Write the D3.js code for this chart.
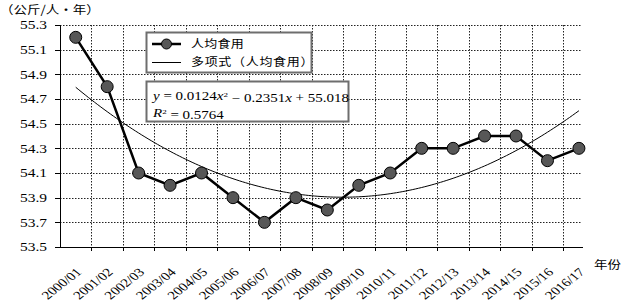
<!DOCTYPE html>
<html>
<head>
<meta charset="utf-8">
<script src="https://cdn.jsdelivr.net/npm/d3@7"></script>
<style>
  body { margin: 0; background: #fff; }
  svg { display: block; }
</style>
</head>
<body>
<div id="chart"></div>
<script>
// data
const years = ['2000/01', '2001/02', '2002/03', '2003/04', '2004/05', '2005/06', '2006/07', '2007/08', '2008/09',
    '2009/10', '2010/11', '2011/12', '2012/13', '2013/14', '2014/15', '2015/16', '2016/17'];
const perCapita = [55.2, 54.8, 54.1, 54.0, 54.1, 53.9, 53.7, 53.9, 53.8, 54.0, 54.1, 54.3, 54.3, 54.4, 54.4, 54.2, 54.3];
const yTicks = [53.5, 53.7, 53.9, 54.1, 54.3, 54.5, 54.7, 54.9, 55.1, 55.3];
// trendline coefficients as printed on the chart: c0 + c1*x + c2*x^2
const trendCoef = [55.018, -0.2351, 0.0124];

const width = 624, height = 305;
const plot = { left: 60, right: 582, top: 25, bottom: 247 };
const step = 31.45;
const squish = 0.78;
const serif = '"Liberation Serif", "DejaVu Serif", serif';
const cjk = '"Noto Sans CJK SC", sans-serif';

const svg = d3.select('#chart').append('svg')
    .attr('width', width)
    .attr('height', height);

const x = d3.scaleBand()
    .domain(years)
    .range([plot.left, plot.left + step * years.length])
    .padding(0);

const y = d3.scaleLinear()
    .domain([53.5, 55.3])
    .range([plot.bottom, plot.top]);

// text helper, the picture is slightly squashed vertically
function label(sel, px, py, str, opts = {}) {
    const g = sel.append('g')
        .attr('transform', `translate(${px},${py}) scale(1,${opts.sy || squish})` + (opts.rotate ? ` rotate(${opts.rotate})` : ''));
    const t = g.append('text')
        .attr('text-anchor', opts.anchor || 'start')
        .attr('dy', opts.dy || '0.35em')
        .attr('font-family', opts.font || serif)
        .attr('font-size', opts.size || 15)
        .attr('letter-spacing', opts.spacing || 0)
        .attr('fill', '#000');
    if (str !== null) t.text(str);
    return t;
}

// gridlines
const grid = svg.append('g').attr('stroke', '#222').attr('stroke-width', 1).attr('stroke-dasharray', '1.5,1.5');
grid.selectAll('.hg')
    .data(yTicks.slice(1))
    .enter()
    .append('line')
    .attr('x1', plot.left).attr('x2', plot.right)
    .attr('y1', d => Math.round(y(d)) + 0.5).attr('y2', d => Math.round(y(d)) + 0.5);
grid.selectAll('.vg')
    .data(years.slice(1))
    .enter()
    .append('line')
    .attr('x1', d => Math.round(x(d)) + 0.5).attr('x2', d => Math.round(x(d)) + 0.5)
    .attr('y1', plot.top).attr('y2', plot.bottom);

// axes
const axes = svg.append('g').attr('stroke', '#000').attr('stroke-width', 1);
axes.append('line').attr('x1', plot.left + 0.5).attr('x2', plot.left + 0.5).attr('y1', plot.top).attr('y2', plot.bottom + 0.5);
axes.append('line').attr('x1', plot.left).attr('x2', plot.right + 1).attr('y1', plot.bottom + 0.5).attr('y2', plot.bottom + 0.5);
axes.selectAll('.yt')
    .data(yTicks)
    .enter()
    .append('line')
    .attr('x1', plot.left - 5).attr('x2', plot.left)
    .attr('y1', d => Math.round(y(d)) + 0.5).attr('y2', d => Math.round(y(d)) + 0.5);
axes.selectAll('.xt')
    .data(years.slice(1))
    .enter()
    .append('line')
    .attr('x1', d => Math.round(x(d)) + 0.5).attr('x2', d => Math.round(x(d)) + 0.5)
    .attr('y1', plot.bottom).attr('y2', plot.bottom + 4);

yTicks.forEach(v => label(svg, 47, y(v), v.toFixed(1), { anchor: 'end', size: 15.5 }));
years.forEach(d => label(svg, x(d) + x.bandwidth() / 2 + 3, 270, d, { anchor: 'end', rotate: -45, size: 15 }));

label(svg, 0, 10, '（公斤/人·年）', { font: cjk, size: 13.5, sy: 0.85 });
label(svg, 594, 265, '年份', { font: cjk, size: 13.5, sy: 0.85 });

// trendline
const trend = xv => trendCoef[0] + trendCoef[1] * xv + trendCoef[2] * xv * xv;
const trendX = d3.range(1, years.length + 0.001, 0.1);
const xPos = d3.scaleLinear().domain([1, years.length]).range([x(years[0]) + x.bandwidth() / 2, x(years[years.length - 1]) + x.bandwidth() / 2]);
svg.append('path')
    .datum(trendX)
    .attr('fill', 'none')
    .attr('stroke', '#000')
    .attr('stroke-width', 1)
    .attr('d', d3.line().x(d => xPos(d)).y(d => y(trend(d))));

// data line
svg.append('path')
    .datum(perCapita)
    .attr('fill', 'none')
    .attr('stroke', '#000')
    .attr('stroke-width', 2.5)
    .attr('d', d3.line().x((d, i) => x(years[i]) + x.bandwidth() / 2).y(d => y(d)));

svg.selectAll('.dot')
    .data(perCapita)
    .enter()
    .append('circle')
    .attr('cx', (d, i) => x(years[i]) + x.bandwidth() / 2)
    .attr('cy', d => y(d))
    .attr('r', 6)
    .attr('fill', '#575757')
    .attr('stroke', '#000')
    .attr('stroke-width', 1);

// legend
const legend = svg.append('g');
legend.append('rect')
    .attr('x', 146.5).attr('y', 32.5).attr('width', 165).attr('height', 40)
    .attr('fill', '#fff').attr('stroke', '#6e6e6e').attr('stroke-width', 2);
legend.append('line').attr('x1', 152).attr('x2', 181).attr('y1', 44).attr('y2', 44)
    .attr('stroke', '#000').attr('stroke-width', 2.5);
legend.append('circle').attr('cx', 166.5).attr('cy', 44).attr('r', 5)
    .attr('fill', '#575757').attr('stroke', '#000');
legend.append('line').attr('x1', 152).attr('x2', 181).attr('y1', 62.5).attr('y2', 62.5)
    .attr('stroke', '#000').attr('stroke-width', 1);
label(legend, 191, 44, '人均食用', { font: cjk, size: 13, sy: 0.85, spacing: 0.3 });
label(legend, 191, 62, '多项式（人均食用）', { font: cjk, size: 13, sy: 0.85, spacing: 0.7 });

// equation box
const eq = svg.append('g');
eq.append('rect')
    .attr('x', 146.5).attr('y', 81.5).attr('width', 202).attr('height', 40)
    .attr('fill', '#fff').attr('stroke', '#6e6e6e').attr('stroke-width', 2);
const l1 = label(eq, 153, 96, null, { size: 15 });
l1.append('tspan').attr('font-style', 'italic').text('y');
l1.append('tspan').text(` = ${trendCoef[2]}`);
l1.append('tspan').attr('font-style', 'italic').text('x');
l1.append('tspan').attr('font-size', 9).attr('dy', '-0.5em').text('2');
l1.append('tspan').attr('dy', '0.5em').text(` − ${Math.abs(trendCoef[1])}`);
l1.append('tspan').attr('font-style', 'italic').text('x');
l1.append('tspan').text(` + ${trendCoef[0]}`);
const l2 = label(eq, 153, 113, null, { size: 15 });
l2.append('tspan').attr('font-style', 'italic').text('R');
l2.append('tspan').attr('font-size', 9).attr('dy', '-0.5em').text('2');
l2.append('tspan').attr('dy', '0.5em').text(' = 0.5764');
</script>
</body>
</html>
